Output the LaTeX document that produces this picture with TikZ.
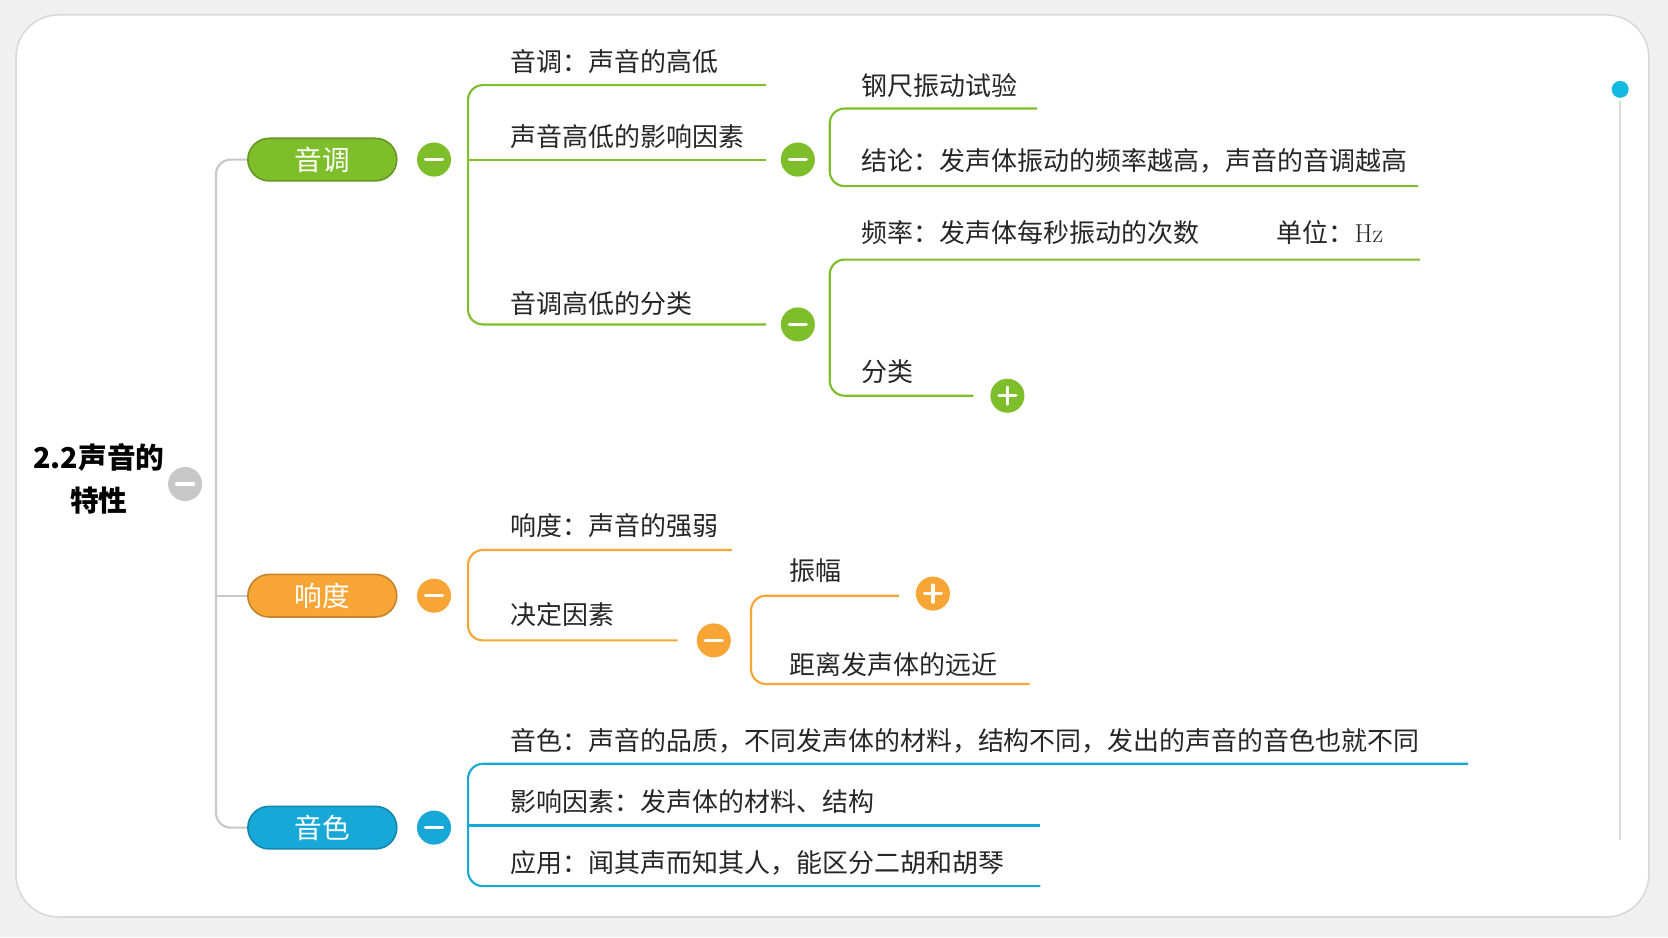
\documentclass[tikz,border=0pt]{standalone}
\usepackage{fontspec}
\newfontfamily\cjk{Noto Sans CJK SC}
\definecolor{gr}{HTML}{7DBE2A}
\definecolor{org}{HTML}{F7A535}
\definecolor{bl}{HTML}{17A8D8}
\definecolor{tr}{HTML}{C8C8C8}
\begin{document}
\begin{tikzpicture}[x=1pt,y=-1pt,
  lbl/.style={anchor=west,inner sep=0pt,font=\cjk\fontsize{24.4}{27}\selectfont,text=black!85},
  pill/.style={draw=#1!80!black,line width=1.5pt,fill=#1,rounded corners=20pt,minimum width=140pt,minimum height=40pt,text=white,font=\cjk\fontsize{26}{28}\selectfont},
  br/.style={draw=#1,line width=2pt,rounded corners=14pt},
  pics/mc/.style={code={\fill[#1] (0,0) circle (16); \draw[white,line width=3pt,line cap=round] (-8,0)--(8,0);}},
  pics/pc/.style={code={\fill[#1] (0,0) circle (16); \draw[white,line width=3pt,line cap=round] (-8,0)--(8,0) (0,-8)--(0,8);}}]
\fill[black!6] (0,0) rectangle (1568,881);
\useasboundingbox (0,0) rectangle (1568,881);
\draw[black!15,fill=white,line width=1.5pt,rounded corners=40pt] (15,14) rectangle (1550,862);
% scrollbar
\draw[black!15,line width=2pt] (1523,95)--(1523,790);
\fill[bl!80!cyan] (1523,84) circle (8);
% root
\node[font=\cjk\bfseries\fontsize{27}{40}\selectfont,align=center] (root) at (93,450) {2.2声音的\\特性};
\pic at (174,455) {mc=tr};
\draw[br=tr] (232,150) -- (203,150) -- (203,778) -- (232,778);
\draw[tr,line width=2pt] (203,560)--(232,560);
\node[pill=gr] (a) at (303,150) {音调};
\node[pill=org] (b) at (303,560) {响度};
\node[pill=bl] (c) at (303,778) {音色};
\pic at (408,150) {mc=gr};
\pic at (408,560) {mc=org};
\pic at (408,778) {mc=bl};
% green subtree
\draw[br=gr] (720,80) -- (440,80) -- (440,305) -- (720,305);
\draw[gr,line width=2pt] (440,150)--(720,150);
\node[lbl] at (480,58) {音调：声音的高低};
\node[lbl] at (480,128) {声音高低的影响因素};
\node[lbl] at (480,285) {音调高低的分类};
\pic at (750,150) {mc=gr};
\draw[br=gr] (975,102) -- (780,102) -- (780,175) -- (1333,175);
\node[lbl] at (810,80) {钢尺振动试验};
\node[lbl] at (810,151) {结论：发声体振动的频率越高，声音的音调越高};
\pic at (750,305) {mc=gr};
\draw[br=gr] (1335,244) -- (780,244) -- (780,372) -- (915,372);
\node[lbl] at (810,219) {频率：发声体每秒振动的次数};
\node[lbl] at (1200,219) {单位：\rmfamily Hz};
\node[lbl] at (810,349) {分类};
\pic at (947,372) {pc=gr};
% orange subtree
\draw[br=org] (688,517) -- (440,517) -- (440,602) -- (637,602);
\node[lbl] at (480,494) {响度：声音的强弱};
\node[lbl] at (480,578) {决定因素};
\pic at (671,602) {mc=org};
\draw[br=org] (845,560) -- (706,560) -- (706,643) -- (968,643);
\node[lbl] at (742,536) {振幅};
\node[lbl] at (742,625) {距离发声体的远近};
\pic at (877,558) {pc=org};
% blue subtree
\draw[br=bl] (1380,718) -- (440,718) -- (440,833) -- (978,833);
\draw[bl,line width=2pt] (440,776)--(978,776);
\node[lbl] at (480,696) {音色：声音的品质，不同发声体的材料，结构不同，发出的声音的音色也就不同};
\node[lbl] at (480,754) {影响因素：发声体的材料、结构};
\node[lbl] at (480,811) {应用：闻其声而知其人，能区分二胡和胡琴};
\end{tikzpicture}
\end{document}
